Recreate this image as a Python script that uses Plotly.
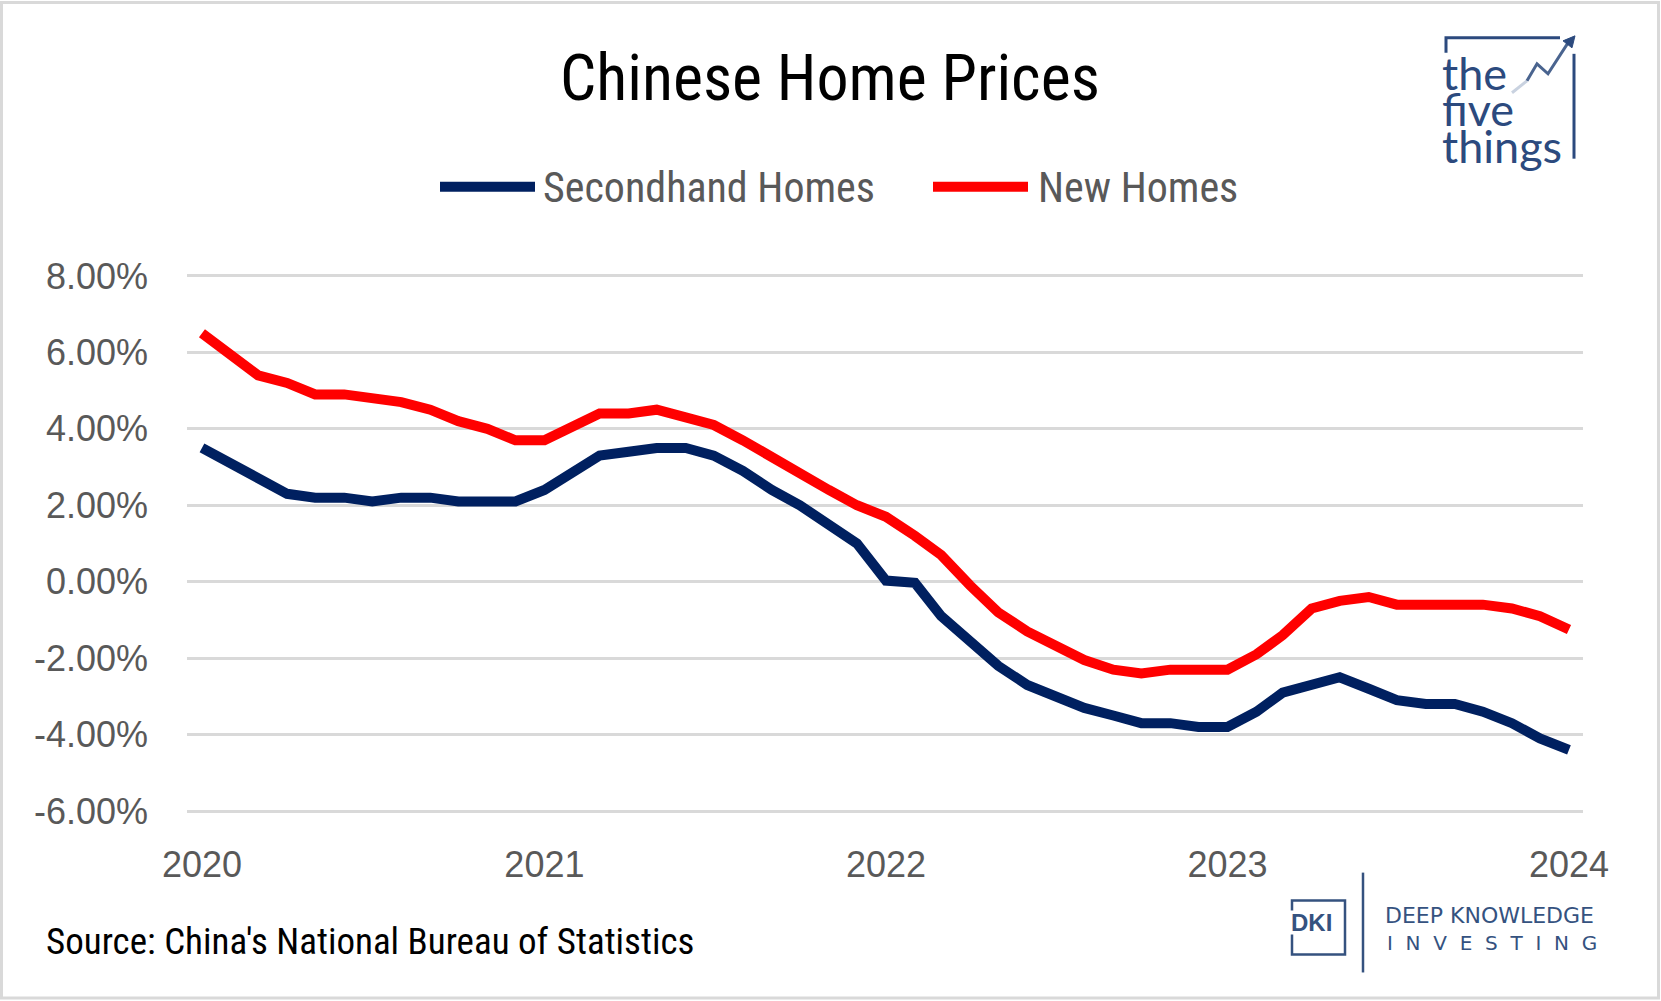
import pandas as pd
import plotly.graph_objects as go

# ---------------- data ----------------
months = pd.date_range("2020-01-01", periods=49, freq="MS")

secondhand_homes = [
    3.5, 3.1, 2.7, 2.3, 2.2, 2.2, 2.1, 2.2, 2.2, 2.1, 2.1, 2.1,
    2.4, 2.9, 3.3, 3.4, 3.5, 3.5, 3.3, 2.9, 2.4, 2.0, 1.5, 1.0,
    0.03, -0.03, -0.9, -1.6, -2.2, -2.7, -3.0, -3.3, -3.5, -3.7, -3.7, -3.8,
    -3.8, -3.4, -2.9, -2.7, -2.5, -2.8, -3.1, -3.2, -3.2, -3.4, -3.7, -4.1,
    -4.4,
]
new_homes = [
    6.5, 5.9, 5.4, 5.2, 4.9, 4.9, 4.8, 4.7, 4.5, 4.2, 4.0, 3.7,
    3.7, 4.1, 4.4, 4.4, 4.5, 4.3, 4.1, 3.7, 3.25, 2.8, 2.4, 2.0,
    1.7, 1.2, 0.7, -0.1, -0.8, -1.3, -1.7, -2.05, -2.3, -2.4, -2.3, -2.3,
    -2.3, -1.9, -1.4, -0.7, -0.5, -0.4, -0.6, -0.6, -0.6, -0.6, -0.7, -0.9,
    -1.25,
]
year_ticks = ["2020-01-01", "2021-01-01", "2022-01-01", "2023-01-01", "2024-01-01"]
year_labels = ["2020", "2021", "2022", "2023", "2024"]
y_ticks = [-6, -4, -2, 0, 2, 4, 6, 8]
y_labels = ["-6.00%", "-4.00%", "-2.00%", "0.00%", "2.00%", "4.00%", "6.00%", "8.00%"]

series_names = ["Secondhand Homes", "New Homes"]
series_colors = ["#002060", "#FF0000"]

# ---------------- layout geometry (pixels) ----------------
W, H = 1661, 1001
L, R = 187, 1583
T, B = 273.5, 813.3

def px(x):
    return (x - L) / (R - L)

def py(y):
    return (B - y) / (B - T)

NARROW = "Liberation Sans Narrow, Arial Narrow, Roboto Condensed, Liberation Sans, Arial, sans-serif"
ARIAL = "Liberation Sans, Arial, sans-serif"
WIDE = "DejaVu Sans, Verdana, sans-serif"
NAVY = "#2c4a7e"

fig = go.Figure()
for name, vals, col in zip(series_names, [secondhand_homes, new_homes], series_colors):
    fig.add_trace(go.Scatter(
        x=months, y=vals, mode="lines", name=name,
        line=dict(color=col, width=10),
        showlegend=False,
    ))

shapes = []
annotations = []

# outer border
shapes.append(dict(type="rect", xref="paper", yref="paper",
                   x0=px(1.5), x1=px(W - 2.5), y0=py(1.5), y1=py(H - 2.5),
                   line=dict(color="#d9d9d9", width=3), layer="below"))

# title
annotations.append(dict(text="Chinese Home Prices", xref="paper", yref="paper",
                        x=px(830), y=py(78), xanchor="center", yanchor="middle",
                        showarrow=False, font=dict(family=NARROW, size=64, color="#000000")))

# manual legend
leg_items = [(440, 535, 541), (933, 1028, 1036)]
for (x0, x1, tx), name, col in zip(leg_items, series_names, series_colors):
    shapes.append(dict(type="line", xref="paper", yref="paper",
                       x0=px(x0), x1=px(x1), y0=py(186), y1=py(186),
                       line=dict(color=col, width=10)))
    annotations.append(dict(text=name, xref="paper", yref="paper",
                            x=px(tx), y=py(187), xanchor="left", yanchor="middle",
                            showarrow=False, font=dict(family=NARROW, size=42, color="#595959")))

# source
annotations.append(dict(text="Source: China's National Bureau of Statistics", xref="paper", yref="paper",
                        x=px(44), y=py(942), xanchor="left", yanchor="middle",
                        showarrow=False, font=dict(family=NARROW, size=37, color="#000000")))

# "the five things" logo
for txt, yc in [("the", 72), ("five", 108), ("things", 145)]:
    annotations.append(dict(text=txt, xref="paper", yref="paper",
                            x=px(1440), y=py(yc), xanchor="left", yanchor="middle",
                            showarrow=False, font=dict(family="Lato, Open Sans, sans-serif", size=45, color=NAVY)))
shapes.append(dict(type="path", xref="paper", yref="paper",
                   path=f"M {px(1446)},{py(52)} L {px(1446)},{py(37)} L {px(1560)},{py(37)}",
                   line=dict(color=NAVY, width=3)))
shapes.append(dict(type="line", xref="paper", yref="paper",
                   x0=px(1574), x1=px(1574), y0=py(53), y1=py(158),
                   line=dict(color=NAVY, width=3)))
shapes.append(dict(type="path", xref="paper", yref="paper",
                   path=f"M {px(1512)},{py(92)} L {px(1527)},{py(80)}",
                   line=dict(color="#c9d2e0", width=3)))
shapes.append(dict(type="path", xref="paper", yref="paper",
                   path=f"M {px(1527)},{py(80)} L {px(1537)},{py(63)} L {px(1548)},{py(73)} L {px(1568)},{py(42)}",
                   line=dict(color="#4a648f", width=3)))
shapes.append(dict(type="path", xref="paper", yref="paper",
                   path=f"M {px(1575)},{py(35)} L {px(1563)},{py(40)} L {px(1572)},{py(47)} Z",
                   fillcolor=NAVY, line=dict(color=NAVY, width=1)))

# DKI logo
DK = "#35527f"
shapes.append(dict(type="path", xref="paper", yref="paper",
                   path=(f"M {px(1292)},{py(911)} L {px(1292)},{py(901)} L {px(1345)},{py(901)} "
                         f"L {px(1345)},{py(955)} L {px(1292)},{py(955)} L {px(1292)},{py(935)}"),
                   line=dict(color=DK, width=2.5)))
annotations.append(dict(text="<b>DKI</b>", xref="paper", yref="paper",
                        x=px(1311), y=py(923), xanchor="center", yanchor="middle",
                        showarrow=False, font=dict(family=ARIAL, size=24, color=DK)))
shapes.append(dict(type="line", xref="paper", yref="paper",
                   x0=px(1363), x1=px(1363), y0=py(873), y1=py(973),
                   line=dict(color=DK, width=2.5)))
annotations.append(dict(text="DEEP KNOWLEDGE", xref="paper", yref="paper",
                        x=px(1383), y=py(916), xanchor="left", yanchor="middle",
                        showarrow=False, font=dict(family=WIDE, size=22, color=DK)))
sp = "\u00a0\u00a0"
annotations.append(dict(text=sp.join("INVESTING"), xref="paper", yref="paper",
                        x=px(1385), y=py(943), xanchor="left", yanchor="middle",
                        showarrow=False, font=dict(family=WIDE, size=20, color=DK)))

fig.update_layout(
    width=W, height=H,
    margin=dict(l=L, r=W - R, t=T, b=H - B, pad=0),
    paper_bgcolor="#ffffff", plot_bgcolor="#ffffff",
    showlegend=False,
    shapes=shapes, annotations=annotations,
    xaxis=dict(
        type="date",
        range=["2019-12-16", "2024-01-16"],
        tickvals=year_ticks, ticktext=year_labels,
        showgrid=False, zeroline=False, showline=False, ticks="",
        tickfont=dict(family=ARIAL, size=36, color="#595959"),
        ticklabelstandoff=27,
    ),
    yaxis=dict(
        range=[-6.05, 8.05],
        tickvals=y_ticks, ticktext=y_labels,
        showgrid=True, gridcolor="#d9d9d9", gridwidth=2.5,
        zeroline=False, showline=False, ticks="",
        tickfont=dict(family=ARIAL, size=36, color="#595959"),
        ticklabelstandoff=38,
    ),
)

fig.write_html("out.html", config={"displayModeBar": False},
               post_script="document.body.style.margin='0';")
